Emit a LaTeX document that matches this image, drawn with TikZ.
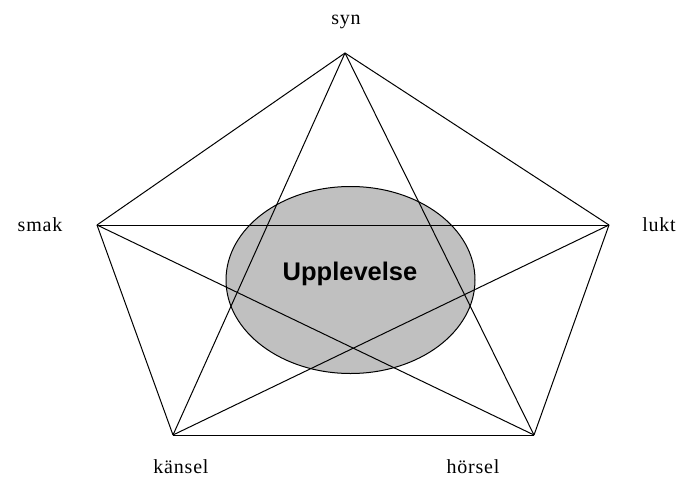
\documentclass[tikz,border=0pt]{standalone}
\usepackage{fontspec}
\setmainfont{Liberation Serif}
\newfontfamily\boldsans{Liberation Sans}
\usepackage{tikz}
\usetikzlibrary{positioning,shapes.geometric}
\definecolor{blobgray}{RGB}{192,192,192}

\begin{document}
\begin{tikzpicture}[x=1pt,y=-1pt,line width=1pt,
                    sense/.style={font=\fontsize{20}{20}\selectfont\addfontfeature{LetterSpace=4}},
                    blob/.style={draw=black,line width=1pt,fill=blobgray}]
  \useasboundingbox (0,0) rectangle (685,479);
  \coordinate (syn) at (345,53);
  \coordinate (smak) at (97,225);
  \coordinate (lukt) at (609,225);
  \coordinate (kansel) at (173,435);
  \coordinate (horsel) at (534,435);
  \node[blob,ellipse,minimum width=249,minimum height=187,inner sep=0pt] (upp) at (350.5,280) {};
  \node[font=\boldsans\bfseries\fontsize{25.5}{25.5}\selectfont] (upptxt) at (350,274) {Upplevelse};
  \node[sense] (synl) at (346,22) {syn};
  \node[sense] (smakl) at (40,225) {smak};
  \node[sense] (luktl) at (659,225) {lukt};
  \node[sense] (kansell) at (181,467) {känsel};
  \node[sense] (horsell) at (473,467) {hörsel};
  \path (syn) edge (smak)
        (syn) edge (lukt)
        (syn) edge (kansel)
        (syn) edge (horsel)
        (smak) edge (lukt)
        (smak) edge (kansel)
        (smak) edge (horsel)
        (lukt) edge (kansel)
        (lukt) edge (horsel)
        (kansel) edge (horsel);
\end{tikzpicture}
\end{document}
